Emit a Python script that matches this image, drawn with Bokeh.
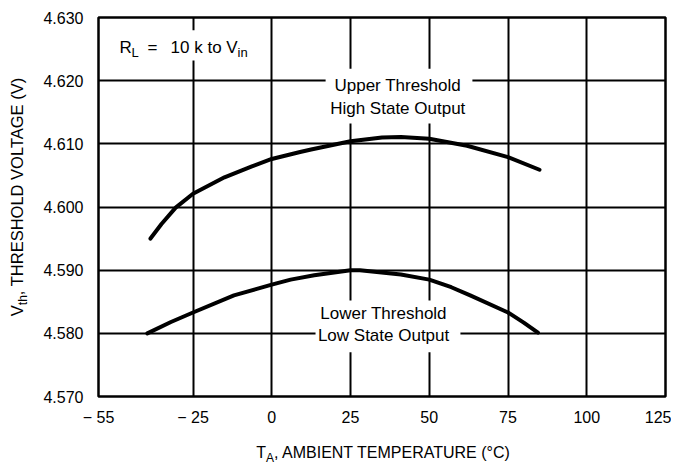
from bokeh.plotting import figure
from bokeh.models import Range1d, FixedTicker, Label, BoxAnnotation, Div
from bokeh.layouts import column, row
from bokeh.embed import file_html
from bokeh.resources import INLINE

# ---- data ----
temp_upper = [-38.5, -35, -30.5, -25, -15, -6.5, 0, 9, 12.5, 25, 35, 41, 50, 62, 75, 85]
vth_upper = [4.5950, 4.5973, 4.5999, 4.6021, 4.6047, 4.6064, 4.6076, 4.6087, 4.6091,
             4.6104, 4.6110, 4.6111, 4.6108, 4.6097, 4.6079, 4.6059]
temp_lower = [-39.5, -32, -25, -12, -5, 0, 6, 13.5, 25, 28, 41, 50, 57, 63, 75, 80, 84.5]
vth_lower = [4.5800, 4.5818, 4.5833, 4.5860, 4.5870, 4.5877, 4.5885, 4.5892, 4.5900, 4.5900,
             4.5893, 4.5885, 4.5873, 4.5860, 4.5833, 4.5817, 4.5801]

x_ticks = [-55, -25, 0, 25, 50, 75, 100, 125]
x_tick_labels = ["\u2212 55", "\u2212 25", "0", "25", "50", "75", "100", "125"]
y_ticks = [4.570, 4.580, 4.590, 4.600, 4.610, 4.620, 4.630]
y_tick_labels = ["4.570", "4.580", "4.590", "4.600", "4.610", "4.620", "4.630"]

x_title_main = "T"
x_title_sub = "A"
x_title_rest = ", AMBIENT TEMPERATURE (\u00b0C)"
y_title_main = "V"
y_title_sub = "th"
y_title_rest = ", THRESHOLD VOLTAGE (V)"

FONT = "Liberation Sans"

p = figure(width=633, height=436, output_backend="svg", toolbar_location=None,
           x_range=Range1d(-55, 125), y_range=Range1d(4.570, 4.630),
           min_border_left=60, min_border_right=6, min_border_top=17, min_border_bottom=40)
p.outline_line_color = "black"
p.outline_line_width = 2.5
p.background_fill_color = "white"
p.border_fill_color = "white"

p.xaxis.ticker = FixedTicker(ticks=x_ticks)
p.yaxis.ticker = FixedTicker(ticks=y_ticks)
p.xaxis.major_label_overrides = {t: l for t, l in zip(x_ticks, x_tick_labels)}
p.yaxis.major_label_overrides = {t: l for t, l in zip(y_ticks, y_tick_labels)}
for ax in (p.xaxis, p.yaxis):
    ax.axis_line_color = None
    ax.major_tick_line_color = None
    ax.minor_tick_line_color = None
    ax.major_label_text_font = FONT
    ax.major_label_text_font_size = "16px"
    ax.major_label_text_color = "black"
p.xaxis.major_label_standoff = 6
p.yaxis.major_label_standoff = 9

p.xgrid.grid_line_color = "black"
p.ygrid.grid_line_color = "black"
p.xgrid.grid_line_width = 2
p.ygrid.grid_line_width = 2

p.line(temp_upper, vth_upper, line_color="black", line_width=4, line_join="round", line_cap="round")
p.line(temp_lower, vth_lower, line_color="black", line_width=4, line_join="round", line_cap="round")

# white masks behind the in-plot texts (they interrupt the grid)
for l, r, b, t in [(-51.2, -5.2, 4.6232, 4.6280),
                   (17.1, 63.7, 4.6132, 4.6219),
                   (13.9, 59.9, 4.5770, 4.5852)]:
    p.add_layout(BoxAnnotation(left=l, right=r, bottom=b, top=t,
                               fill_color="white", fill_alpha=1.0,
                               line_alpha=0.0))

def lab(x, y, text, size="17px", align="left", xo=0, yo=0):
    p.add_layout(Label(x=x, y=y, text=text, text_font=FONT, text_font_size=size,
                       text_align=align, text_baseline="middle", text_color="black",
                       x_offset=xo, y_offset=yo))

lab(-48.3, 4.6252, "R")
lab(-48.3, 4.6252, "L", size="13px", xo=12, yo=-5)
lab(-48.3, 4.6252, "=", xo=28)
lab(-48.3, 4.6252, "10 k to V", xo=51)
lab(-48.3, 4.6252, "in", size="13px", xo=118, yo=-5)

lab(40.0, 4.6192, "Upper Threshold", align="center")
lab(40.0, 4.6156, "High State Output", align="center")
lab(35.5, 4.5831, "Lower Threshold", align="center")
lab(35.5, 4.5797, "Low State Output", align="center")

# axis titles with subscripts (HTML text)
sub_css = "font-size:12px;vertical-align:-4px;line-height:0;"
y_html = (
    '<div style="position:relative;width:38px;height:436px;">'
    '<span style="position:absolute;left:17px;top:197px;white-space:nowrap;'
    "font-family:'Liberation Sans';font-size:16.5px;line-height:17px;color:black;"
    'transform:translate(-50%,-50%) rotate(-90deg);">'
    f'{y_title_main}<span style="{sub_css}">{y_title_sub}</span>{y_title_rest}</span></div>'
)
x_html = (
    '<div style="position:relative;width:671px;height:32px;">'
    '<span style="position:absolute;left:383px;top:17px;white-space:nowrap;'
    "font-family:'Liberation Sans';font-size:16px;line-height:16px;color:black;"
    'transform:translate(-50%,-50%);">'
    f'{x_title_main}<span style="{sub_css}">{x_title_sub}</span>{x_title_rest}</span></div>'
)
ydiv = Div(text=y_html, width=38, height=436, margin=0)
xdiv = Div(text=x_html, width=671, height=32, margin=0)

layout = column(row(ydiv, p, spacing=0), xdiv, spacing=0)

open("out.html", "w").write(file_html(layout, INLINE))
